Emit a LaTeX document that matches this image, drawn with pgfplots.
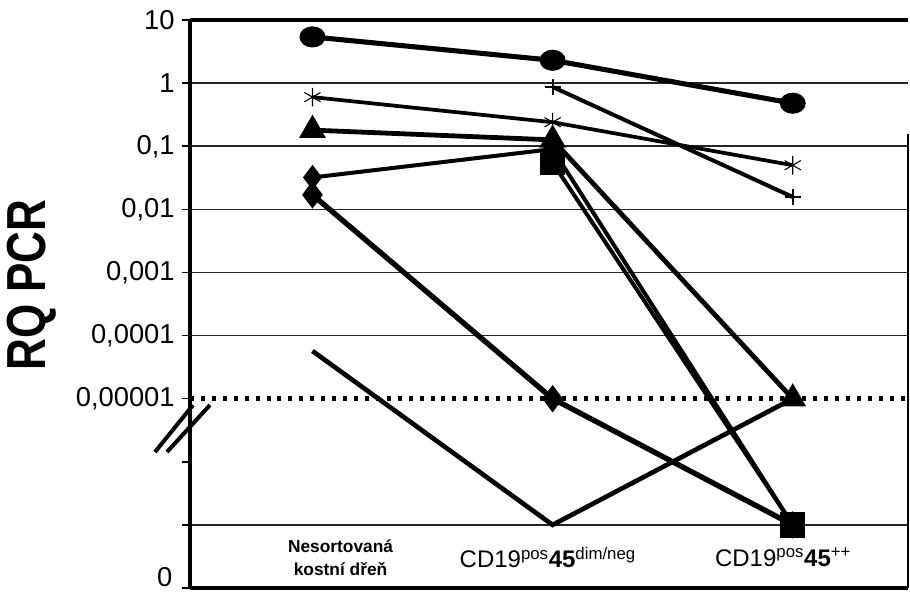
\documentclass[border=0pt]{standalone}
\usepackage{fontspec}
\setmainfont{Liberation Sans}
\usepackage{pgfplots}
\pgfplotsset{compat=1.18}
\begin{document}
\begin{tikzpicture}[x=1pt,y=1pt]
\path[use as bounding box] (0,0) rectangle (682.5,444.75);
\begin{axis}[
  at={(142.5pt,3.75pt)}, anchor=south west,
  scale only axis, width=538.5pt, height=426pt,
  xmin=-0.51, xmax=2.48,
  ymode=log, ymin=1e-8, ymax=10,
  axis line style={draw=none},
  xtick=\empty,
  ytick={1e-7,1e-4,1e-3,1e-2,1e-1,1,10},
  yticklabels={{},{0,0001},{0,001},{0,01},{0,1},{1},{10}},
  extra y ticks={1e-8,1e-6,1e-5},
  extra y tick labels={{},{},{0,00001}},
  extra y tick style={grid=none},
  ymajorgrids,
  major grid style={line width=1.1pt, black!85},
  minor ytick={},
  ytick pos=left, tick align=outside,
  major tick length=6pt,
  every tick/.style={line width=1.2pt, black},
  yticklabel style={font=\fontsize{20.5}{23}\selectfont, xshift=-2pt},
  clip=false,
]
% dotted detection limit line
\addplot[line width=3.5pt, dash pattern=on 3pt off 5.2pt] coordinates {(-0.51,1e-5) (2.48,1e-5)};
% axis frame
\draw[line width=3.5pt] (rel axis cs:0,1) -- (rel axis cs:1,1);
\draw[line width=3.5pt] (rel axis cs:0,0) -- (rel axis cs:1,0);
\draw[line width=3.5pt] (rel axis cs:0,0) -- (rel axis cs:0,1);
\draw[line width=1.3pt] (rel axis cs:1,0) -- (rel axis cs:1,0.8);

% series
\addplot[line width=3.8pt, mark=*, mark size=6pt, mark options={xscale=1.3}] coordinates {(0,5.4) (1,2.3) (2,0.48)};
\addplot[line width=2.8pt, mark=asterisk, mark size=7pt, mark options={line width=0.8pt}] coordinates {(0,0.60) (1,0.24) (2,0.050)};
\addplot[line width=3pt, mark=+, mark size=6pt, mark options={line width=1.5pt}] coordinates {(1,0.87) (2,0.0157)};
\addplot[line width=3.6pt, mark=triangle*, mark size=8pt] coordinates {(0,0.18) (1,0.126) (2,1e-5)};
\addplot[line width=3pt, mark=diamond*, mark size=7pt] coordinates {(0,0.032) (1,0.09) (2,1e-7)};
\addplot[line width=3pt, mark=square*, mark size=8pt] coordinates {(1,0.055) (2,1e-7)};
\addplot[line width=4pt, mark=diamond*, mark size=7pt] coordinates {(0,0.017) (1,1e-5) (2,1e-7)};
\addplot[line width=3.5pt] coordinates {(0,5.7e-5) (1,1e-7) (2,1e-5)};

% zero label
\node[anchor=east, inner sep=0pt, font=\fontsize{20.5}{23}\selectfont, xshift=-13pt, yshift=8pt] at (rel axis cs:0,0) {0};
% category labels
\node[align=center, font=\bfseries\fontsize{13}{17}\selectfont, yshift=22.5pt] at (axis cs:0.117,1e-8) {Nesortovaná\\kostní dřeň};
\node[font=\fontsize{18}{20}\selectfont, yshift=23pt] at (axis cs:0.98,1e-8) {CD19\textsuperscript{pos}\textbf{45}\textsuperscript{dim/neg}};
\node[font=\fontsize{18}{20}\selectfont, yshift=23pt] at (axis cs:1.96,1e-8) {CD19\textsuperscript{pos}\textbf{45}\textsuperscript{++}};
\end{axis}
% axis break
\draw[line width=3pt] (116.25,105.75) -- (144.75,141);
\draw[line width=3pt] (125.25,105.75) -- (157.5,141);
% y label
\node[rotate=90, font=\bfseries\fontsize{33}{36}\selectfont] at (24,231) {\scalebox{1}[1.25]{RQ PCR}};
\end{tikzpicture}
\end{document}
